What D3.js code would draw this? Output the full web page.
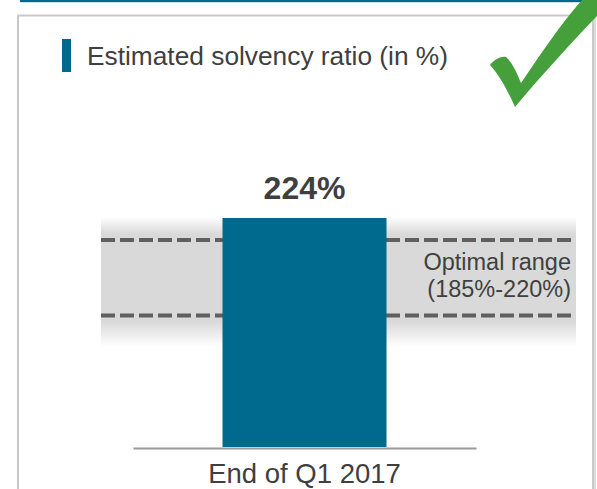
<!DOCTYPE html>
<html>
<head>
<meta charset="utf-8">
<script src="https://cdn.jsdelivr.net/npm/d3@7"></script>
<style>
  html, body { margin: 0; padding: 0; background: #fff; }
  svg { display: block; font-family: "Liberation Sans", Arial, sans-serif; }
</style>
</head>
<body>
<svg id="chart" width="597" height="489"></svg>
<script>
// ---- data ----
const categories = ["End of Q1 2017"];
const values = [224];
const rangeBounds = [185, 220];
const valueLabels = ["224%"];
const title = "Estimated solvency ratio (in %)";
const rangeLabels = ["Optimal range", "(185%-220%)"];

const W = 597, H = 489;
const svg = d3.select("#chart");
const teal = "#006a8e";
const textCol = "#3f3f3f";

// top teal rule
svg.append("rect").attr("x", 20).attr("y", 0).attr("width", W - 20).attr("height", 2.2).attr("fill", teal);

// panel border
svg.append("path")
  .attr("d", `M18,${H + 5} L18,15.5 L593,15.5 L593,${H + 5}`)
  .attr("fill", "none").attr("stroke", "#c9c9c9").attr("stroke-width", 2);
svg.append("line").attr("x1", 595).attr("x2", 595).attr("y1", 17).attr("y2", H + 5)
  .attr("stroke", "#dcdcdc").attr("stroke-width", 2);

// title marker + text
svg.append("rect").attr("x", 62).attr("y", 39).attr("width", 9).attr("height", 33).attr("fill", teal);
svg.append("text").attr("x", 87).attr("y", 65).attr("font-size", 26.3).attr("fill", textCol).text(title);

// scales
const x = d3.scaleBand().domain(categories).range([133, 476]).paddingInner(0).paddingOuter(0.5457);
const y = d3.scaleLinear().domain([0, 185, 220, 224]).range([447, 315.5, 240, 218]);

// optimal range band with soft edges
const bandTop = y(rangeBounds[1]) - 23, bandBot = y(rangeBounds[0]) + 31;
const defs = svg.append("defs");
const g = defs.append("linearGradient").attr("id", "bandGrad")
  .attr("gradientUnits", "userSpaceOnUse")
  .attr("x1", 0).attr("x2", 0).attr("y1", bandTop).attr("y2", bandBot);
const f1 = (y(rangeBounds[1]) - 6 - bandTop) / (bandBot - bandTop);
const f2 = (y(rangeBounds[0]) + 6 - bandTop) / (bandBot - bandTop);
[[0, "#ffffff"], [f1, "#d9d9d9"], [f2, "#d9d9d9"], [1, "#ffffff"]].forEach(([o, c]) =>
  g.append("stop").attr("offset", o).attr("stop-color", c));
svg.append("rect").attr("x", 101).attr("y", bandTop).attr("width", 475).attr("height", bandBot - bandTop)
  .attr("fill", "url(#bandGrad)");

// dashed boundary lines
svg.selectAll("line.bound").data(rangeBounds).join("line").attr("class", "bound")
  .attr("x1", 101).attr("x2", 576)
  .attr("y1", d => y(d)).attr("y2", d => y(d))
  .attr("stroke", "#5f5f5f").attr("stroke-width", 4).attr("stroke-dasharray", "14,5");

// range label
svg.append("text").attr("text-anchor", "end").attr("font-size", 23.5).attr("fill", textCol)
  .selectAll("tspan").data(rangeLabels).join("tspan")
  .attr("x", 571).attr("y", (d, i) => 269.5 + i * 27.5).text(d => d);

// bar
svg.selectAll("rect.bar").data(values).join("rect").attr("class", "bar")
  .attr("x", (d, i) => x(categories[i])).attr("width", x.bandwidth())
  .attr("y", d => y(d)).attr("height", d => y(0) - y(d))
  .attr("fill", teal);

// value labels
svg.selectAll("text.val").data(values).join("text").attr("class", "val")
  .attr("x", (d, i) => x(categories[i]) + x.bandwidth() / 2)
  .attr("y", d => y(d) - 19)
  .attr("text-anchor", "middle").attr("font-weight", "bold").attr("font-size", 32)
  .attr("fill", textCol).text((d, i) => valueLabels[i]);

// x axis
const axisY = y(0) + 1;
const axis = svg.append("g").attr("transform", `translate(0,${axisY})`)
  .call(d3.axisBottom(x).tickSize(0));
axis.select(".domain").attr("stroke", "#9a9a9a").attr("stroke-width", 2);
axis.selectAll("text").attr("font-size", 27.5).attr("fill", textCol)
  .attr("dy", 0).attr("y", 483 - axisY)
  .attr("font-family", "'Liberation Sans', Arial, sans-serif");

// check mark
svg.append("path")
  .attr("d", "M490,65 C495,59 501,56 506,57 C512,62 517,73 521,83 C540,55 560,25 582,0 L597,0 L597,16 C572,42 541,76 515,107 C509,93 500,76 490,65 Z")
  .attr("fill", "#45a03c");
</script>
</body>
</html>
